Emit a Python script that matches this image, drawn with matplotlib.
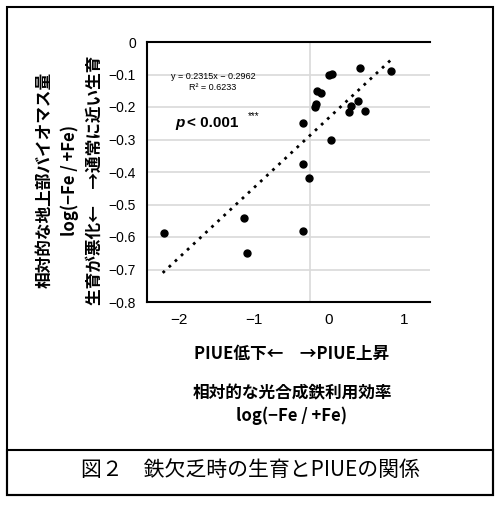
import matplotlib
matplotlib.use("Agg")
import matplotlib.pyplot as plt
from matplotlib.patches import Rectangle
import numpy as np

plt.rcParams['font.family'] = ['Noto Sans CJK JP', 'DejaVu Sans']

x_vals = [-2.2, -1.14, -1.09, -0.34, -0.35, -0.35, -0.26, -0.19, -0.17, -0.165, -0.10,
          0.0, 0.035, 0.03, 0.27, 0.30, 0.39, 0.48, 0.42, 0.83]
y_vals = [-0.588, -0.543, -0.65, -0.248, -0.375, -0.58, -0.418, -0.199, -0.19, -0.15, -0.156,
          -0.102, -0.097, -0.30, -0.214, -0.197, -0.18, -0.211, -0.079, -0.089]
# trend line as drawn on the chart
line_slope, line_intercept = 0.215, -0.233
x_ticks = [-2, -1, 0, 1]
y_ticks = [0, -0.1, -0.2, -0.3, -0.4, -0.5, -0.6, -0.7, -0.8]

W, H = 500, 505
fig = plt.figure(figsize=(5, 5.05), dpi=100)
ax = fig.add_axes([147/W, 1-302/H, (430-147)/W, (302-42)/H])
ax.set_xlim(-2.43, 1.35)
ax.set_ylim(-0.8, 0)
ax.set_yticks(y_ticks)
ax.set_yticklabels([f"{t:g}".replace("-", "−") if t != 0 else "0" for t in y_ticks],
                   fontsize=10, family='Liberation Sans')
ax.set_xticks(x_ticks)
ax.set_xticklabels([f"{t}".replace("-", "−") for t in x_ticks], fontsize=11, family='Liberation Sans')
ax.tick_params(length=0, pad=8)
for t in y_ticks[1:]:
    ax.axhline(t, color='#d9d9d9', lw=1.2, zorder=0)
ax.axvline(-0.25, color='#d9d9d9', lw=1.2, zorder=0)
ax.spines['right'].set_visible(False)
for s in ['left', 'top', 'bottom']:
    ax.spines[s].set_linewidth(1.5)
xs = np.array([-2.22, 0.83])
ax.plot(xs, line_slope*xs+line_intercept, ls=(0, (1, 2)), color='black', lw=2)
ax.scatter(x_vals, y_vals, s=25, color='black', zorder=3)
ax.text(-1.55, -0.122, "y = 0.2315x − 0.2962\nR² = 0.6233", fontsize=6.5, ha='center',
        va='center', linespacing=1.3, family='Liberation Sans')
ax.text(-2.05, -0.262, "p", fontsize=11, fontweight='bold', style='italic', family='Liberation Sans')
ax.text(-1.9, -0.262, "< 0.001", fontsize=11, fontweight='bold', family='Liberation Sans')
ax.text(-1.08, -0.238, "***", fontsize=7, family='Liberation Sans')

def ft(x, y, s, **kw):
    fig.text(x/W, 1-y/H, s, ha='center', va='center', fontweight='bold', **kw)

ft(45, 180, "相対的な地上部バイオマス量", rotation=90, fontsize=12)
ft(70, 180, "log(−Fe / +Fe)", rotation=90, fontsize=12)
ft(95, 180, "生育が悪化←　→通常に近い生育", rotation=90, fontsize=12)
ft(292, 354, "PIUE低下←　→PIUE上昇", fontsize=12)
ft(292, 393, "相対的な光合成鉄利用効率", fontsize=12)
ft(292, 416, "log(−Fe / +Fe)", fontsize=12)
fig.text(250/W, 1-470/H, "図２　鉄欠乏時の生育とPIUEの関係", ha='center', va='center', fontsize=15)

fig.patches.append(Rectangle((7/W, 1-495/H), 486/W, 488/H, transform=fig.transFigure,
                             fill=False, lw=1.5, ec='black'))
fig.patches.append(Rectangle((7/W, 1-495/H), 486/W, 45/H, transform=fig.transFigure,
                             fill=False, lw=1.5, ec='black'))
fig.savefig("out.png", dpi=100)
